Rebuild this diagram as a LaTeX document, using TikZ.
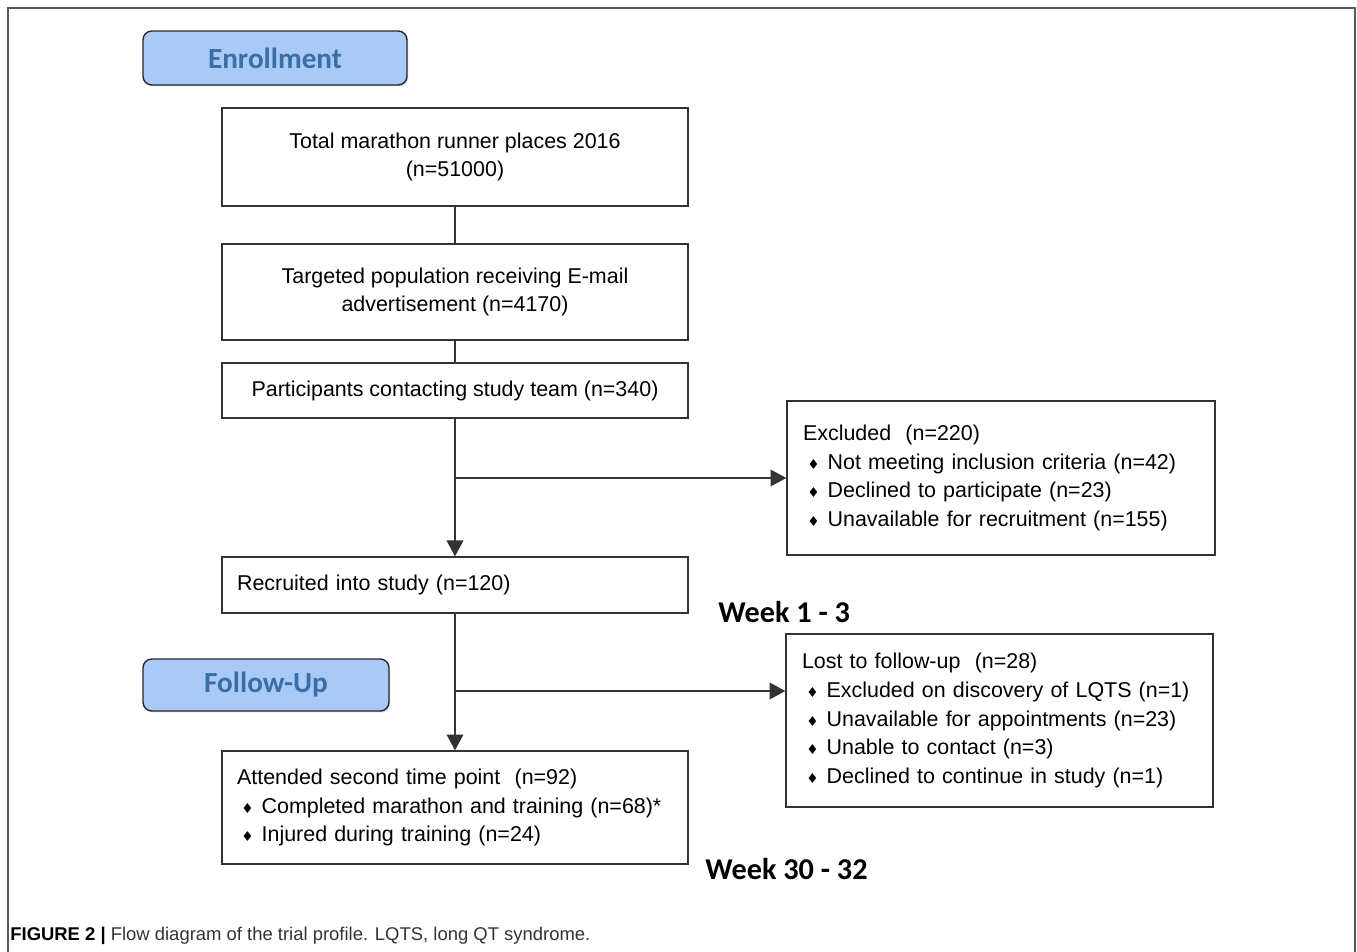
\documentclass[tikz,border=0pt]{standalone}
\usepackage{fontspec}
\setmainfont{Liberation Sans}
\newfontfamily\calfont{Carlito}
\newfontfamily\symfont{DejaVu Sans}
\usetikzlibrary{arrows.meta,positioning,calc,shadows}

\definecolor{phasefill}{HTML}{A9C9F7}
\definecolor{phasetext}{HTML}{3A6EA8}
\definecolor{boxline}{HTML}{333333}

\newcommand{\bul}{\makebox[14pt][l]{\hspace{2.4pt}{\symfont\fontsize{7.8}{8}\selectfont ♦}}}

\begin{document}
\begin{tikzpicture}[
    x=0.02cm, y=-0.02cm,
    every node/.style={font=\fontsize{12.2}{16.3}\selectfont},
    phase/.style={rectangle, draw=black!85, fill=phasefill, rounded corners=5pt, line width=0.8pt,
        drop shadow={opacity=0.25, shadow xshift=0.8pt, shadow yshift=-0.8pt},
        font=\calfont\bfseries\fontsize{16.6}{18}\selectfont, text=phasetext},
    stepbox/.style={rectangle, draw=boxline, line width=0.8pt, minimum width=9.32cm, align=center},
    listbox/.style={rectangle, draw=boxline, line width=0.8pt, align=left, inner xsep=0.3cm},
    week/.style={font=\calfont\bfseries\fontsize{17.2}{19}\selectfont, anchor=base west, inner sep=0pt},
    arrow/.style={-{Triangle[length=9pt,width=9.5pt]}, line width=0.8pt, draw=boxline},
    link/.style={line width=0.8pt, draw=boxline}
]
\useasboundingbox (0,0) rectangle (1357,951);

% Frame
\draw[line width=1.1pt, black!65] (8,960) -- (8,8) -- (1355,8) -- (1355,960);

% Phase labels
\node[phase, minimum width=5.28cm, minimum height=1.08cm] (enrol) at (275,58) {Enrollment};
\node[phase, minimum width=4.92cm, minimum height=1.04cm] (follow) at (266,685) {Follow-Up};

% Main column
\node[stepbox, minimum height=1.96cm] (total) at (455,157) {Total marathon runner places 2016\\(n=51000)};
\node[stepbox, minimum height=1.92cm] (target) at (455,292) {Targeted population receiving E-mail\\advertisement (n=4170)};
\node[stepbox, minimum height=1.1cm] (contact) at (455,390.5) {Participants contacting study team (n=340)};
\node[listbox, minimum height=1.12cm, text width=8.72cm] (recruit) at (455,585) {Recruited into study (n=120)};
\node[listbox, minimum height=2.26cm, text width=8.72cm] (attend) at (455,807.5)
    {Attended second time point\ \ (n=92)\\
     \bul Completed marathon and training (n=68)*\\
     \bul Injured during training (n=24)};

% Side boxes
\node[listbox, minimum height=3.08cm, text width=7.92cm, inner xsep=0.32cm] (excl) at (1001,478)
    {Excluded\ \ (n=220)\\
     \bul Not meeting inclusion criteria (n=42)\\
     \bul Declined to participate (n=23)\\
     \bul Unavailable for recruitment (n=155)\\[5pt]};
\node[listbox, minimum height=3.46cm, text width=7.9cm, inner xsep=0.32cm] (lost) at (999.5,720.5)
    {Lost to follow-up\ \ (n=28)\\
     \bul Excluded on discovery of LQTS (n=1)\\
     \bul Unavailable for appointments (n=23)\\
     \bul Unable to contact (n=3)\\
     \bul Declined to continue in study (n=1)};

% Time points
\node[week] (wk1) at (718,622) {Week 1 - 3};
\node[week] (wk2) at (705,879) {Week 30 - 32};

% Connectors
\coordinate (split1) at (455,478);
\coordinate (split2) at (455,691);
\draw[link] (total) -- (target);
\draw[link] (target) -- (contact);
\draw[arrow] (contact) -- (recruit);
\draw[arrow] (split1) -- (excl.west);
\draw[arrow] (recruit) -- (attend);
\draw[arrow] (split2) -- (split2 -| lost.west);

% Caption
\node[anchor=base west, inner sep=0pt, font=\fontsize{10.5}{12}\selectfont, text=black!80] (caption) at (10,940)
    {\textcolor{black}{\bfseries FIGURE 2 |} Flow diagram of the trial profile. LQTS, long QT syndrome.};

\end{tikzpicture}
\end{document}
